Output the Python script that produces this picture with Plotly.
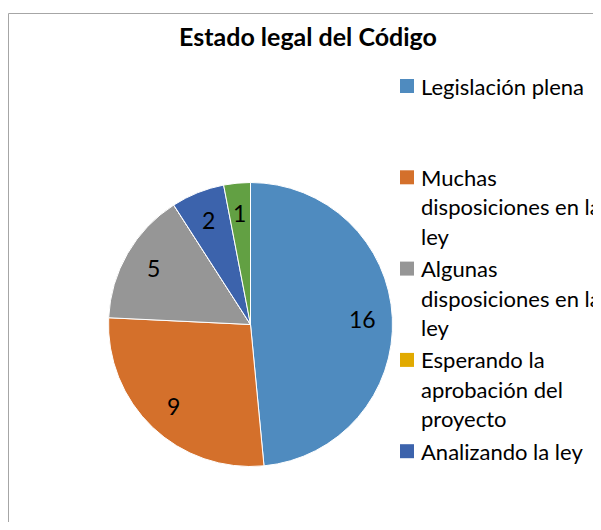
import math
import plotly.graph_objects as go

# Datos del gráfico
categorias = [
    "Legislación plena",
    "Muchas disposiciones en la ley",
    "Algunas disposiciones en la ley",
    "Esperando la aprobación del proyecto",
    "Analizando la ley",
    "Otro",
]
valores = [16, 9, 5, 0, 2, 1]
colores = ["#4F8BBF", "#D4702B", "#969696", "#E1AA00", "#3C63AC", "#62A043"]

# Líneas de la leyenda tal como aparecen (la última categoría queda fuera)
lineas_leyenda = [
    ["Legislación plena"],
    ["Muchas", "disposiciones en la", "ley"],
    ["Algunas", "disposiciones en la", "ley"],
    ["Esperando la", "aprobación del", "proyecto"],
    ["Analizando la ley"],
]

OFF = 8  # margen por defecto del <body> de la página
W, H = 601 - OFF, 530 - 2 * OFF
FUENTE = "Lato"


def fx(px):
    return (px - OFF) / W


def fy(py):
    return 1 - (py - OFF) / H


# geometría del pastel (en píxeles de la imagen)
CX, CY, R = 250.5, 324.5, 142

fig = go.Figure()

fig.add_trace(go.Pie(
    labels=categorias,
    values=valores,
    textinfo="none",
    marker=dict(colors=colores, line=dict(color="white", width=1)),
    sort=False,
    direction="clockwise",
    rotation=0,
    hoverinfo="label+value",
    showlegend=False,
    domain=dict(x=[fx(CX - R), fx(CX + R)], y=[fy(CY + R), fy(CY - R)]),
))

shapes = []
annotations = []

# Etiquetas de datos: sobre la bisectriz de cada sector, como en Excel
total = sum(valores)
acum = 0
for v in valores:
    if v:
        ang = 2 * math.pi * (acum + v / 2) / total
        rr = 0.79 * R
        annotations.append(dict(
            text=str(v), xref="paper", yref="paper",
            x=fx(CX + rr * math.sin(ang)), y=fy(CY - rr * math.cos(ang)),
            xanchor="center", yanchor="middle", showarrow=False,
            font=dict(family=FUENTE, size=23, color="black"),
        ))
    acum += v

# Leyenda dibujada a mano para reproducir el corte de la original
for i, lineas in enumerate(lineas_leyenda):
    y0 = 86 + 91.3 * i
    shapes.append(dict(
        type="rect", xref="paper", yref="paper",
        x0=fx(400), x1=fx(414), y0=fy(y0 - 7), y1=fy(y0 + 7),
        fillcolor=colores[i], line=dict(width=0),
    ))
    for j, linea in enumerate(lineas):
        annotations.append(dict(
            text=linea, xref="paper", yref="paper",
            x=fx(419), y=fy(y0 + 29.5 * j),
            xanchor="left", yanchor="middle", showarrow=False,
            font=dict(family=FUENTE, size=22, color="black"),
        ))

# Marco del área del gráfico (recortado a la derecha y abajo)
shapes.append(dict(type="line", xref="paper", yref="paper",
                   x0=0.5 / W, x1=1.01, y0=fy(13.5), y1=fy(13.5),
                   line=dict(color="#A6A6A6", width=1)))
shapes.append(dict(type="line", xref="paper", yref="paper",
                   x0=0.5 / W, x1=0.5 / W, y0=fy(13.5), y1=-0.01,
                   line=dict(color="#A6A6A6", width=1)))

fig.update_layout(
    width=W, height=H,
    margin=dict(l=0, r=0, t=0, b=0),
    paper_bgcolor="white",
    title=dict(text="<b>Estado legal del Código</b>", x=fx(308), xanchor="center",
               y=fy(37), yanchor="middle",
               font=dict(family=FUENTE, size=25, color="black")),
    shapes=shapes,
    annotations=annotations,
)

fig.write_html("out.html")
